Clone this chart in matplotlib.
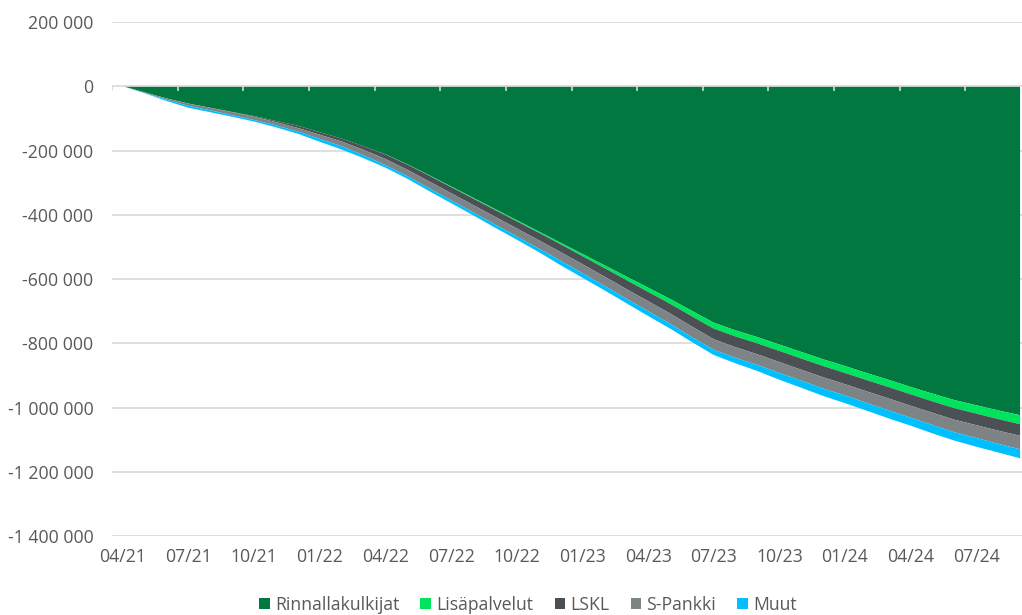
import matplotlib
matplotlib.use("Agg")
import matplotlib.pyplot as plt
from matplotlib.patches import Patch
import numpy as np

# ---- data (thousands of EUR, cumulative, negative) ----
months = ["04/21", "05/21", "06/21", "07/21", "08/21", "09/21", "10/21", "11/21", "12/21",
          "01/22", "02/22", "03/22", "04/22", "05/22", "06/22", "07/22", "08/22", "09/22",
          "10/22", "11/22", "12/22", "01/23", "02/23", "03/23", "04/23", "05/23", "06/23",
          "07/23", "08/23", "09/23", "10/23", "11/23", "12/23", "01/24", "02/24", "03/24",
          "04/24", "05/24", "06/24", "07/24", "08/24", "09/24"]

rinnallakulkijat = [0, -19, -38, -54, -67, -80, -93, -108, -123, -143, -163, -187, -212,
                    -243, -277, -312, -347, -382, -417, -452, -487, -522, -557, -592, -627,
                    -662, -699, -736, -760, -781, -804, -827, -850, -871, -893, -914, -936,
                    -957, -977, -993, -1009, -1024]
lisapalvelut = [0, 0, 0, 0, 0, 0, 0, 0, 0, 0, 0, 0, -0.5, -1, -1.5, -2, -2.5, -3, -3.5, -4,
                -5, -7, -9, -11, -13, -15, -17, -18.5, -19, -19.5, -20, -20.5, -21, -21.5,
                -22, -22.5, -23, -24, -25, -26, -27, -28]
lskl = [0, 0, 0, 0, 0, -1, -2, -4, -7, -8, -9, -11, -14, -16, -18, -19, -20, -21, -22, -23,
        -24, -25, -26, -28, -29, -30, -32, -33, -33.5, -34, -34.5, -35, -35, -35, -35, -35.5,
        -35.5, -35.5, -36, -36, -36, -36]
s_pankki = [0, -2, -4, -7, -8, -9, -10, -10, -11, -13, -15, -17, -19, -20, -21, -22, -23, -24,
            -25, -26, -27, -28, -29, -30, -31, -32, -33, -33, -33, -33, -34, -34, -35, -35,
            -36, -37, -37, -38, -39, -40, -41, -42]
muut = [0, -1, -4, -6, -6, -5, -5, -6, -7, -9, -10, -9, -8, -8, -9, -9, -9, -10, -10, -11,
        -14, -14, -14, -14, -15, -15, -15, -16, -17, -19, -21, -22, -23, -24, -24, -25, -25,
        -26, -26, -27, -27, -28]

series_names = ["Rinnallakulkijat", "Lisäpalvelut", "LSKL", "S-Pankki", "Muut"]
colors = ["#00783F", "#00E35C", "#4B5055", "#7E8386", "#00BFFF"]

yticks = [200000, 0, -200000, -400000, -600000, -800000, -1000000, -1200000, -1400000]

# ---- figure ----
plt.rcParams['font.family'] = ['Open Sans', 'DejaVu Sans']
FS = 12.7
fig = plt.figure(figsize=(10.22, 6.15), dpi=100)
W, H = 1022, 615
left, right, top, bottom = 112, 1031, 22, 536
ax = fig.add_axes([left / W, 1 - bottom / H, (right - left) / W, (bottom - top) / H])

x = np.arange(len(months))
data = [np.array(s) * 1000 for s in (rinnallakulkijat, lisapalvelut, lskl, s_pankki, muut)]
ax.stackplot(x, *data, colors=colors, linewidth=0, zorder=2)

ax.set_xlim(-0.5, len(months) - 0.5)
ax.set_ylim(-1400000, 200000)

grid_c = "#D9D9D9"
for yv in yticks:
    if yv != 0:
        ax.axhline(yv, color=grid_c, lw=1.2, zorder=1)
ax.axhline(0, color=grid_c, lw=1.2, zorder=3)
# category tick marks on the zero axis
for b in np.arange(-0.5, len(months), 3):
    ax.plot([b, b], [0, -16000], color=grid_c, lw=1.2, zorder=3, solid_capstyle='butt')

for s in ax.spines.values():
    s.set_visible(False)

txt_c = "#595959"
ax.set_yticks(yticks)
ax.set_yticklabels([f"{v:,}".replace(",", " ") for v in yticks], color=txt_c, fontsize=FS)
ax.tick_params(axis='y', length=0, pad=13.5)
ax.set_xticks(x[::3])
ax.set_xticklabels(months[::3], color=txt_c, fontsize=FS)
ax.tick_params(axis='x', length=0, pad=8.5)

handles = [Patch(facecolor=c, edgecolor='none') for c in colors]
fig.legend(handles, series_names, loc='center', bbox_to_anchor=(528 / W, 1 - 605 / H),
           ncol=5, frameon=False, fontsize=FS, handlelength=0.6, handleheight=0.6,
           handletextpad=0.3, columnspacing=1.2, labelcolor=txt_c, borderpad=0)

fig.savefig("out.png", dpi=100)
